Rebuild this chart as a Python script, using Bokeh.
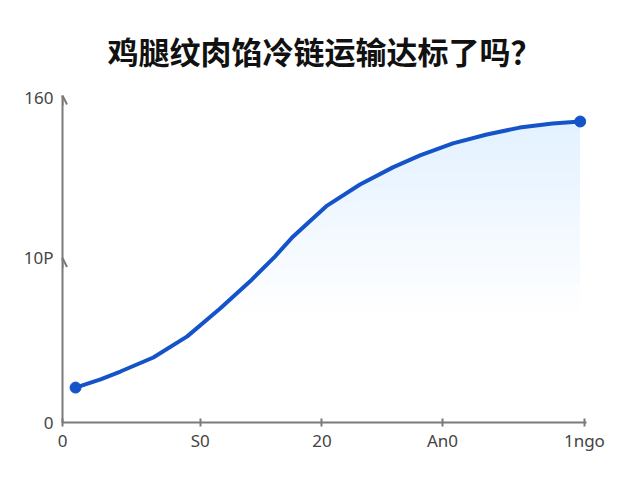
from bokeh.plotting import figure
from bokeh.models import Range1d, FixedTicker, Arrow, OpenHead
from bokeh.embed import file_html
from bokeh.resources import INLINE
import numpy as np

title_text = "鸡腿纹肉馅冷链运输达标了吗？"

x_vals = [2.5, 7.3, 11.1, 17.4, 23.9, 30.2, 35.9, 40.7, 44.2, 50.7, 57.0, 63.3, 68.5, 74.8, 81.3, 87.6, 93.9, 99.2]
y_vals = [17.2, 21.2, 25.1, 32.0, 42.4, 56.1, 69.4, 81.7, 91.6, 106.8, 117.2, 125.6, 131.5, 137.4, 141.8, 145.2, 147.2, 148.2]

x_ticks = [0, 26.4, 49.7, 72.8, 100]
x_labels = ["0", "S0", "20", "An0", "1ngo"]
y_ticks = [0, 81, 160]
y_labels = ["0", "10P", "160"]

line_color = "#1553c9"
axis_color = "#7a7a7a"

p = figure(width=624, height=464, output_backend="svg", toolbar_location=None,
           x_range=Range1d(0, 100.4), y_range=Range1d(0, 161),
           min_border_left=62, min_border_right=38, min_border_top=95, min_border_bottom=42)

p.title.text = title_text
p.title.align = "center"
p.title.text_font = "Noto Sans CJK SC"
p.title.text_font_style = "bold"
p.title.text_font_size = "31px"
p.title.text_color = "#111111"
p.title.standoff = 46

p.outline_line_color = None
p.grid.visible = False
p.background_fill_color = "white"
p.border_fill_color = "white"

# vertical fade fill under curve
xs = np.array(x_vals)
ys = np.array(y_vals)
N = 14
for i in range(N):
    h = 55.0 + (150.0 - 55.0) * i / N
    lower = np.minimum(h, ys)
    p.varea(x=xs, y1=lower, y2=ys, fill_color="#5b9bf0", fill_alpha=0.0105)

p.line(x_vals, y_vals, line_color=line_color, line_width=4, line_cap="round", line_join="round")
p.scatter([x_vals[0], x_vals[-1]], [y_vals[0], y_vals[-1]], size=11,
          fill_color=line_color, line_color=line_color)

for ax in (p.xaxis, p.yaxis):
    ax.axis_line_color = axis_color
    ax.axis_line_width = 2
    ax.major_tick_line_color = axis_color
    ax.major_tick_line_width = 2
    ax.minor_tick_line_color = None
    ax.major_label_text_font = "Noto Sans"
    ax.major_label_text_font_size = "17px"
    ax.major_label_text_color = "#444444"

p.xaxis.ticker = FixedTicker(ticks=x_ticks)
p.xaxis.major_label_overrides = {t: l for t, l in zip(x_ticks, x_labels)}
p.xaxis.major_tick_in = 4
p.xaxis.major_tick_out = 4
p.xaxis.major_label_standoff = 2

p.yaxis.ticker = FixedTicker(ticks=y_ticks)
p.yaxis.major_label_overrides = {t: l for t, l in zip(y_ticks, y_labels)}
p.yaxis.major_tick_in = 0
p.yaxis.major_tick_out = 0
p.yaxis.major_label_standoff = 9

for yt in [161, 81]:
    p.add_layout(Arrow(end=OpenHead(size=9, line_color=axis_color, line_width=2),
                       x_start=0, y_start=yt - 5, x_end=0, y_end=yt,
                       line_color=axis_color, line_width=2))

open("out.html", "w").write(file_html(p, INLINE))
